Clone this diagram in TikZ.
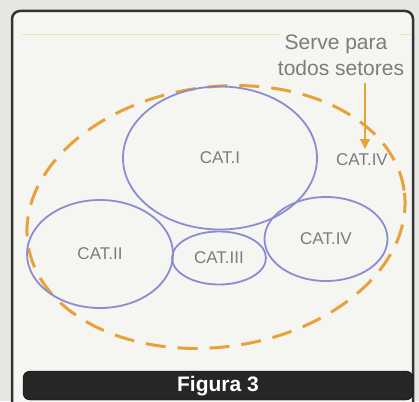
\documentclass[tikz,border=0pt]{standalone}
\usepackage{fontspec}
\setmainfont{Liberation Sans}
\usetikzlibrary{shapes.geometric,arrows.meta}
\definecolor{bgcol}{HTML}{E6E6E3}
\definecolor{panelcol}{HTML}{F5F5F2}
\definecolor{bluecol}{HTML}{8C8CD0}
\definecolor{orangecol}{HTML}{E8A23A}
\definecolor{txtcol}{HTML}{7C7C7A}
\definecolor{yelcol}{HTML}{ECE6A8}
\tikzset{
  cat/.style={ellipse, draw=bluecol, line width=1.8pt, inner sep=0pt, text=txtcol, font=\fontsize{17}{20}\selectfont},
  outer/.style={ellipse, draw=orangecol, line width=3pt, dash pattern=on 20pt off 12pt, inner sep=0pt},
  lbl/.style={text=txtcol, font=\fontsize{21}{24}\selectfont, inner sep=0pt},
  bar/.style={fill=black!85, rounded corners=7pt},
}
\begin{document}
\begin{tikzpicture}[x=1pt,y=-1pt]
\useasboundingbox (0,0) rectangle (419,401);
\fill[bgcol] (0,0) rectangle (419,401);
\begin{scope}
\clip (0,0) rectangle (419,401);
\draw[fill=panelcol, draw=black!80, line width=2.5pt, rounded corners=8pt] (12,11) rectangle (413,420);
\end{scope}
\draw[yelcol, line width=1pt] (22,35) -- (280,35);
\draw[yelcol, line width=1pt] (400,35) -- (411,35);
% outer dashed ellipse
\node[outer, rotate=8, minimum width=380pt, minimum height=260pt] (all) at (216,217) {};
% category ellipses
\node[cat, minimum width=194pt, minimum height=143pt] (c1) at (220,158) {CAT.I};
\node[cat, minimum width=146pt, minimum height=108pt] (c2) at (100,254) {CAT.II};
\node[cat, minimum width=94pt, minimum height=53pt] (c3) at (219,258) {CAT.III};
\node[cat, minimum width=123pt, minimum height=84pt] (c4) at (326,239) {CAT.IV};
% annotation
\node[lbl] (t1) at (336,44) {Serve para};
\node[lbl] (t2) at (341,68) {todos setores};
\node[text=txtcol, font=\fontsize{17}{20}\selectfont, inner sep=0pt] (c4b) at (362,160) {CAT.IV};
\coordinate (a1) at (365,83);
\coordinate (a2) at (365,149);
\draw[orangecol, line width=1.2pt, -{Triangle[width=10pt,length=10pt]}] (a1) -- (a2);
% caption bar
\draw[bar] (23,371) rectangle (413,400);
\node[text=white, font=\bfseries\fontsize{21}{24}\selectfont] (fig) at (218,386) {Figura 3};
\end{tikzpicture}
\end{document}
